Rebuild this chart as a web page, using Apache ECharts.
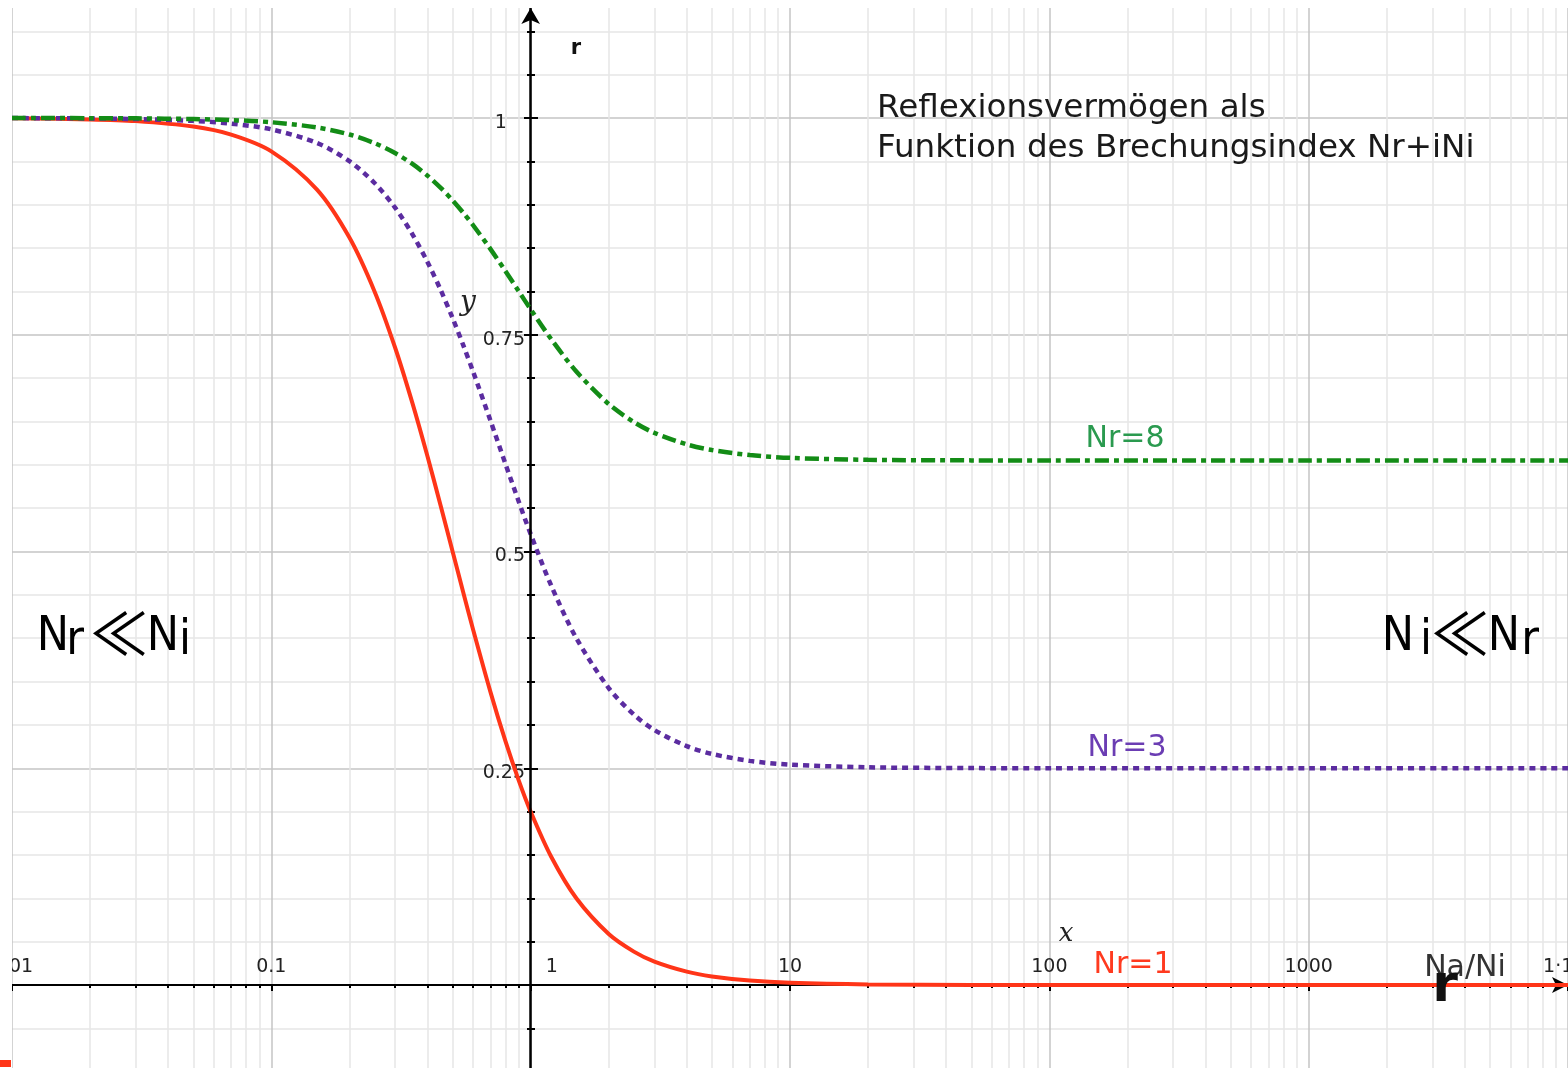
<!DOCTYPE html>
<html lang="de">
<head>
    <meta charset="UTF-8">
    <title>Reflexionsvermögen</title>
    <script src="https://cdn.jsdelivr.net/npm/echarts@6/dist/echarts.min.js"></script>
    <style>
        html, body { margin: 0; padding: 0; background: #fff; }
        #chart { width: 1568px; height: 1068px; }
    </style>
</head>
<body>
<div id="chart"></div>
<script>
    // Na/Ni (log axis) and reflectivity r
    var ratio = [0.01, 0.02, 0.03, 0.05, 0.07, 0.1, 0.15, 0.2, 0.25, 0.3, 0.35, 0.4, 0.45, 0.5, 0.55, 0.6, 0.7, 0.8, 0.9, 1,
                 1.2, 1.5, 2, 2.5, 3, 4, 5, 7, 10, 20, 50, 100, 1000, 10000];
    var rNr1 = [0.9996, 0.9984, 0.9964, 0.9901, 0.9808, 0.9615, 0.9174, 0.8621, 0.8, 0.7353, 0.6711, 0.6098, 0.5525, 0.5, 0.4525, 0.4098, 0.3378, 0.2809, 0.2358, 0.2,
                0.1479, 0.1, 0.0588, 0.0385, 0.027, 0.0154, 0.0099, 0.0051, 0.0025, 0.0006, 0.0001, 0, 0, 0];
    var rNr3 = [0.9999, 0.9995, 0.9988, 0.9967, 0.9935, 0.9869, 0.9712, 0.9502, 0.925, 0.8966, 0.8659, 0.8339, 0.8015, 0.7692, 0.7377, 0.7073, 0.6508, 0.6008, 0.5574, 0.52,
                0.4607, 0.4, 0.3425, 0.3119, 0.2941, 0.2755, 0.2665, 0.2585, 0.2542, 0.2511, 0.2502, 0.25, 0.25, 0.25];
    var rNr8 = [1, 0.9998, 0.9996, 0.9988, 0.9976, 0.9951, 0.9891, 0.981, 0.971, 0.9596, 0.947, 0.9335, 0.9194, 0.905, 0.8906, 0.8763, 0.8488, 0.8232, 0.8, 0.7793,
                0.7449, 0.7076, 0.6701, 0.6493, 0.6368, 0.6235, 0.617, 0.6112, 0.608, 0.6057, 0.6051, 0.605, 0.6049, 0.6049];
    // decade labels from 0.01 to 10^4 (the "1" sits right of the y axis)
    var xTickLabels = ['0.01', '0.1', '       1', '10', '100', '1000', '1·10⁴'];
    var yTickLabels = ['0.25', '0.5', '0.75', '1'];

    var myChart = echarts.init(document.getElementById('chart'));

    var gridMajor = '#c4c4c4';
    var gridMinor = '#e6e6e6';
    var labelFont = 'DejaVu Sans';
    var bigFont = '48px "Liberation Sans Narrow", "DejaVu Sans Condensed", "Liberation Sans"';

    function pairs(ys) {
        return ratio.map(function (x, i) { return [x, ys[i]]; });
    }

    function txt(x, y, s, font, color, align) {
        return {
            type: 'text', x: x, y: y, z: 120, silent: true,
            style: { text: s, font: font, fill: color, align: align || 'left', verticalAlign: 'middle' }
        };
    }

    function xAxisBase(extra) {
        var a = {
            type: 'log', logBase: 10, min: 0.01, max: 10000, gridIndex: 0,
            axisLine: { show: true, onZero: true, onZeroAxisIndex: 0, lineStyle: { color: '#000', width: 2 } },
            axisLabel: { show: false },
            splitLine: { show: false },
            minorSplitLine: { show: false }
        };
        return Object.assign(a, extra);
    }

    function yAxisBase(extra) {
        var a = {
            type: 'value', min: -0.25, max: 1.25, interval: 0.25, gridIndex: 0,
            position: 'left', offset: -519,
            axisLine: { show: false, onZero: false },
            axisLabel: { show: false },
            splitLine: { show: false },
            minorSplitLine: { show: false }
        };
        return Object.assign(a, extra);
    }

    var option = {
        animation: false,
        backgroundColor: '#fff',
        grid: [
            // plot area (scaled so that y = 0 falls on the x axis line at 985px)
            { left: 12, right: 0, top: -98.75, bottom: -133.75, containLabel: false, outerBoundsMode: 'none' },
            // strip ending at the x axis line, only carries the decade labels
            { left: 12, right: 0, top: 8, bottom: 83, containLabel: false, outerBoundsMode: 'none' }
        ],
        xAxis: [
            xAxisBase({
                axisLine: {
                    show: true, onZero: true, onZeroAxisIndex: 0,
                    symbol: ['none', 'arrow'], symbolSize: [12, 16],
                    lineStyle: { color: '#000', width: 2 }
                },
                axisTick: { show: true, inside: false, length: 6, lineStyle: { color: '#000', width: 2 } },
                minorTick: { show: true, splitNumber: 9, length: 3, lineStyle: { color: '#000', width: 2 } },
                splitLine: { show: true, lineStyle: { color: gridMajor, width: 1.5 } },
                minorSplitLine: { show: true, lineStyle: { color: gridMinor, width: 1.5 } }
            }),
            xAxisBase({
                axisLine: { show: true, onZero: true, onZeroAxisIndex: 0, lineStyle: { color: '#000', width: 0, opacity: 0 } },
                axisTick: { show: true, inside: true, length: 6, lineStyle: { color: '#000', width: 2 } },
                minorTick: { show: true, splitNumber: 9, length: 3, lineStyle: { color: '#000', width: 2 } }
            }),
            {
                type: 'log', logBase: 10, min: 0.01, max: 10000, gridIndex: 1, position: 'bottom',
                axisLine: { show: false, onZero: false },
                axisTick: { show: false },
                splitLine: { show: false },
                axisLabel: {
                    show: true, inside: true, margin: 8, color: '#222', fontSize: 19, fontFamily: labelFont,
                    showMinLabel: true, showMaxLabel: true, hideOverlap: false,
                    formatter: function (v) {
                        var k = Math.round(Math.log(v) / Math.LN10) + 2;
                        return xTickLabels[k] || '';
                    }
                }
            }
        ],
        yAxis: [
            yAxisBase({
                axisTick: { show: true, inside: false, length: 7, lineStyle: { color: '#000', width: 2 } },
                minorTick: { show: true, splitNumber: 5, length: 4, lineStyle: { color: '#000', width: 2 } },
                splitLine: { show: true, lineStyle: { color: gridMajor, width: 1.5 } },
                minorSplitLine: { show: true, lineStyle: { color: gridMinor, width: 1.5 } },
                axisLabel: {
                    show: true, margin: 6, color: '#222', fontSize: 19, fontFamily: labelFont,
                    verticalAlign: 'top', lineHeight: 10,
                    formatter: function (v) {
                        var s = String(Math.round(v * 100) / 100);
                        if (yTickLabels.indexOf(s) < 0) return '';
                        return s === '1' ? '1   ' : s;
                    }
                }
            }),
            yAxisBase({
                axisTick: { show: true, inside: true, length: 7, lineStyle: { color: '#000', width: 2 } },
                minorTick: { show: true, splitNumber: 5, length: 4, lineStyle: { color: '#000', width: 2 } }
            }),
            {
                type: 'value', gridIndex: 1, min: 0, max: 1, show: false
            }
        ],
        series: [
            {
                name: 'Nr=1', type: 'line', xAxisIndex: 0, yAxisIndex: 0,
                data: pairs(rNr1), showSymbol: false, smooth: 0.3,
                lineStyle: { color: '#ff3518', width: 4 },
                z: 3,
                markLine: {
                    silent: true, symbol: ['none', 'arrow'], symbolSize: [14, 16],
                    label: { show: false },
                    lineStyle: { color: '#000', width: 2.5, type: 'solid' },
                    emphasis: { disabled: true },
                    data: [[{ coord: [1, -0.2] }, { coord: [1, 1.127] }]]
                }
            },
            {
                name: 'Nr=3', type: 'line', xAxisIndex: 0, yAxisIndex: 0,
                data: pairs(rNr3), showSymbol: false, smooth: 0.3,
                lineStyle: { color: '#5b2ca0', width: 4.5, type: [6, 5] },
                z: 4
            },
            {
                name: 'Nr=8', type: 'line', xAxisIndex: 0, yAxisIndex: 0,
                data: pairs(rNr8), showSymbol: false, smooth: 0.3,
                lineStyle: { color: '#138c16', width: 4.5, type: [14, 5, 5, 5] },
                z: 5
            }
        ],
        graphic: [
            // white margins of the picture
            { type: 'rect', left: 0, top: 0, z: 110, silent: true, shape: { width: 12, height: 1068 }, style: { fill: '#fff' } },
            { type: 'rect', left: 0, top: 0, z: 110, silent: true, shape: { width: 1568, height: 8 }, style: { fill: '#fff' } },
            { type: 'rect', left: 0, top: 1060, z: 111, silent: true, shape: { width: 11, height: 7 }, style: { fill: '#ff3518' } },

            txt(877, 109, 'Reflexionsvermögen als', '32.6px DejaVu Sans', '#1a1a1a'),
            txt(877, 149, 'Funktion des Brechungsindex Nr+iNi', '32.6px DejaVu Sans', '#1a1a1a'),
            txt(576, 49, 'r', 'bold 21px DejaVu Sans', '#111', 'center'),
            txt(468, 303, 'y', 'italic 28px DejaVu Serif', '#222', 'center'),
            txt(1066, 934, 'x', 'italic 26px DejaVu Serif', '#222', 'center'),
            txt(1125, 439, 'Nr=8', '30px DejaVu Sans', '#2a9a4f', 'center'),
            txt(1127, 748, 'Nr=3', '30px DejaVu Sans', '#6b3db3', 'center'),
            txt(1133, 965, 'Nr=1', '30px DejaVu Sans', '#ff3a1f', 'center'),
            txt(1465, 968, 'Na/Ni', '30px DejaVu Sans', '#333', 'center'),
            txt(1445, 987, 'r', 'bold 52px DejaVu Sans', '#111', 'center'),

            // N_r << N_i
            txt(53, 638, 'N', bigFont, '#000', 'center'),
            txt(75, 642, 'r', bigFont, '#000', 'center'),
            txt(119, 633, '≪', '58px Noto Sans CJK JP', '#000', 'center'),
            txt(163, 638, 'N', bigFont, '#000', 'center'),
            txt(185, 642, 'i', bigFont, '#000', 'center'),
            // N_i << N_r
            txt(1398, 638, 'N', bigFont, '#000', 'center'),
            txt(1426, 642, 'i', bigFont, '#000', 'center'),
            txt(1460, 633, '≪', '58px Noto Sans CJK JP', '#000', 'center'),
            txt(1504, 638, 'N', bigFont, '#000', 'center'),
            txt(1530, 642, 'r', bigFont, '#000', 'center')
        ]
    };
    myChart.setOption(option);
</script>
</body>
</html>
